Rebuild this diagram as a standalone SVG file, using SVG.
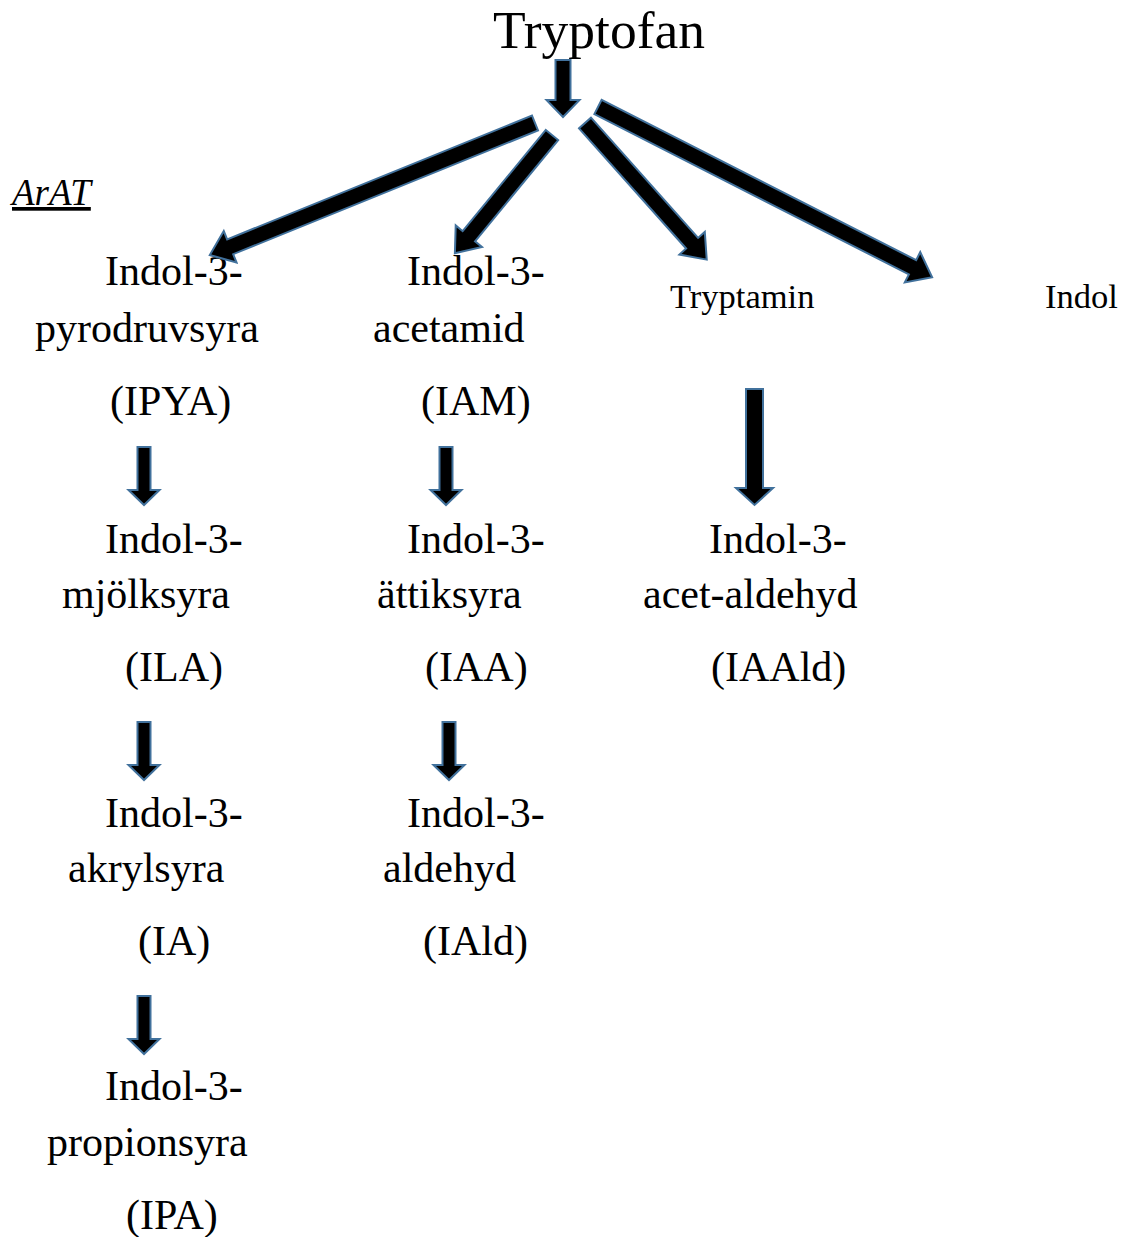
<svg xmlns="http://www.w3.org/2000/svg" width="1121" height="1237" viewBox="0 0 1121 1237">
<style>
text{font-family:"Liberation Serif","Times New Roman",serif;fill:#000}
.n{font-size:42px}
.s{font-size:34.5px}
.t{font-size:53.5px}
.e{font-size:37px;font-style:italic;text-decoration:underline}
.arr{fill:#000;stroke:#41719C;stroke-width:2;stroke-linejoin:miter}
</style>
<rect width="1121" height="1237" fill="#fff"/>
<g id="tryptofan"><text class="t" x="493" y="48">Tryptofan</text></g>
<g id="arat"><text class="e" x="12" y="205">ArAT</text></g>
<g id="ipya"><text class="n" x="105" y="285">Indol-3-</text><text class="n" x="35" y="342">pyrodruvsyra</text><text class="n" x="110" y="415">(IPYA)</text></g>
<g id="iam"><text class="n" x="407" y="285">Indol-3-</text><text class="n" x="373" y="342">acetamid</text><text class="n" x="421" y="415">(IAM)</text></g>
<g id="tryptamin"><text class="s" x="670" y="308">Tryptamin</text></g>
<g id="indol"><text class="s" x="1045" y="308">Indol</text></g>
<g id="ila"><text class="n" x="105" y="553">Indol-3-</text><text class="n" x="62" y="608">mjölksyra</text><text class="n" x="125" y="681">(ILA)</text></g>
<g id="iaa"><text class="n" x="407" y="553">Indol-3-</text><text class="n" x="377" y="608">ättiksyra</text><text class="n" x="425" y="681">(IAA)</text></g>
<g id="iaald"><text class="n" x="709" y="553">Indol-3-</text><text class="n" x="643" y="608">acet-aldehyd</text><text class="n" x="711" y="681">(IAAld)</text></g>
<g id="ia"><text class="n" x="105" y="827">Indol-3-</text><text class="n" x="68" y="882">akrylsyra</text><text class="n" x="138" y="955">(IA)</text></g>
<g id="iald"><text class="n" x="407" y="827">Indol-3-</text><text class="n" x="383" y="882">aldehyd</text><text class="n" x="423" y="955">(IAld)</text></g>
<g id="ipa"><text class="n" x="105" y="1100">Indol-3-</text><text class="n" x="47" y="1156">propionsyra</text><text class="n" x="126" y="1229">(IPA)</text></g>
<g id="connectors">
<path class="arr" d="M-7.5,0H7.5V40H16.5L0,57L-16.5,40H-7.5Z" transform="translate(563,60)"/>
<path class="arr" d="M-8,0H8V329H17L0,351L-17,329H-8Z" transform="translate(535,123) rotate(67.9)"/>
<path class="arr" d="M-8,0H8V131H17L0,153L-17,131H-8Z" transform="translate(552,135) rotate(39.4)"/>
<path class="arr" d="M-8,0H8V161H17L0,183L-17,161H-8Z" transform="translate(585,123) rotate(-41.7)"/>
<path class="arr" d="M-8,0H8V353H17L0,375L-17,353H-8Z" transform="translate(598,107) rotate(-63)"/>
<path class="arr" d="M-6.5,0H6.5V43H15.5L0,58L-15.5,43H-6.5Z" transform="translate(144,447)"/>
<path class="arr" d="M-6.5,0H6.5V43H15.5L0,58L-15.5,43H-6.5Z" transform="translate(446,447)"/>
<path class="arr" d="M-6.5,0H6.5V43H15.5L0,58L-15.5,43H-6.5Z" transform="translate(144,722)"/>
<path class="arr" d="M-6.5,0H6.5V43H15.5L0,58L-15.5,43H-6.5Z" transform="translate(449,722)"/>
<path class="arr" d="M-6.5,0H6.5V43H15.5L0,58L-15.5,43H-6.5Z" transform="translate(144,996)"/>
<path class="arr" d="M-8.5,0H8.5V99H18.5L0,116L-18.5,99H-8.5Z" transform="translate(754.5,389)"/>
</g>
</svg>
